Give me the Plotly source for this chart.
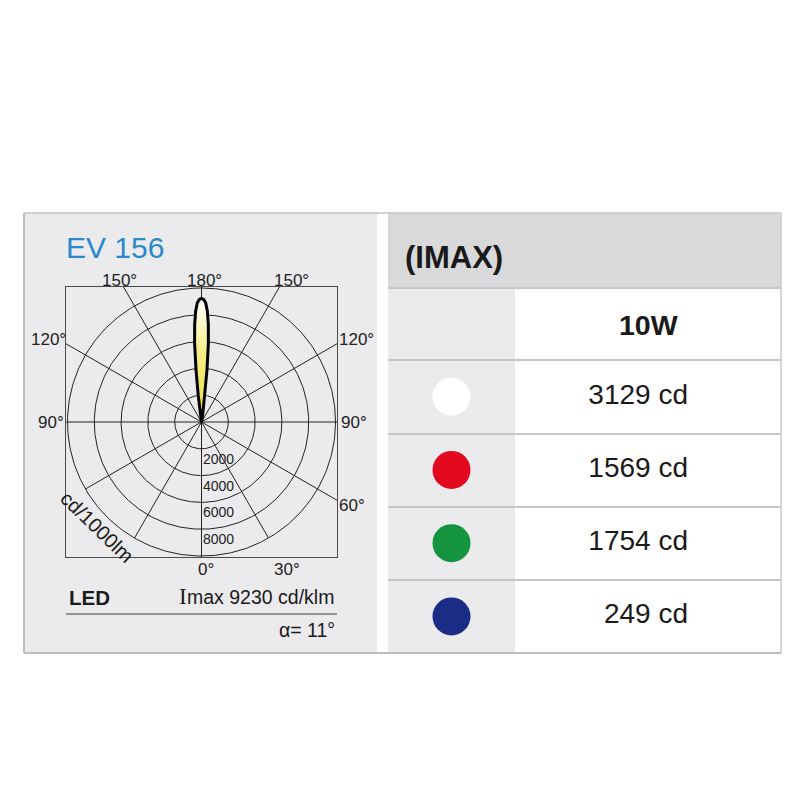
import numpy as np
import plotly.graph_objects as go

# ---------------- data ----------------
# luminous intensity distribution (cd/klm) vs angle from the beam axis (deg)
gamma_deg = [0, 1, 2, 3, 4, 5, 6, 7, 8, 9, 10, 12, 15, 20]
intensity = [9230, 9150, 8900, 8300, 7300, 5900, 3900, 2000, 900, 400, 200, 80, 30, 0]
beam_axis_deg = 180

ring_values = [2000, 4000, 6000, 8000, 10000]
ring_labels = ["2000", "4000", "6000", "8000"]
spoke_angles = [0, 30, 60, 90, 120, 150, 180, 210, 240, 270, 300, 330]
spoke_to_box = [True, False, True, True, True, True, True, True, True, True, False, False]

product = "EV 156"
source = "LED"
imax_total = 9230
beam_angle = 11
unit_label = "cd/1000lm"

table_title = "(IMAX)"
power = "10W"
colour_names = ["white", "red", "green", "blue"]
colour_hex = ["#ffffff", "#e30a20", "#14943f", "#1b2c87"]
imax_values = [3129, 1569, 1754, 249]

FONT = "Liberation Sans, Arial, sans-serif"
SERIF = "Liberation Serif, Times New Roman, serif"
W = H = 800


def px(x, y):
    return x / W, 1 - y / H


fig = go.Figure()

# ---------- polar diagram in a square cartesian frame ----------
BOX_L, BOX_R, BOX_T, BOX_B = 66, 337, 287, 557
R_PX = 134.0                        # outer ring radius in px
scale = ring_values[-1] / R_PX      # cd per px
RX = (BOX_R - BOX_L) / 2 * scale
RY = (BOX_B - BOX_T) / 2 * scale
LINE = "#222222"

t = np.linspace(0, 2 * np.pi, 361)
for r in ring_values:
    fig.add_trace(go.Scatter(x=r * np.sin(t), y=r * np.cos(t), mode="lines",
                             line=dict(color=LINE, width=1), hoverinfo="skip",
                             showlegend=False))

sx, sy = [], []
for a, to_box in zip(spoke_angles, spoke_to_box):
    th = np.radians(a)
    dx, dy = np.sin(th), -np.cos(th)
    if to_box:
        L = min(RX / abs(dx) if abs(dx) > 1e-9 else 1e12,
                RY / abs(dy) if abs(dy) > 1e-9 else 1e12)
    else:
        L = ring_values[-1]
    sx += [0, L * dx, None]
    sy += [0, L * dy, None]
fig.add_trace(go.Scatter(x=sx, y=sy, mode="lines", line=dict(color=LINE, width=1),
                         hoverinfo="skip", showlegend=False))

# lobe
g_full = [-g for g in reversed(gamma_deg)] + gamma_deg[1:]
i_full = list(reversed(intensity)) + intensity[1:]
theta = np.radians(beam_axis_deg + np.array(g_full, dtype=float))
I = np.array(i_full, dtype=float)
lx = I * np.sin(theta)
ly = -I * np.cos(theta)
fig.add_trace(go.Scatter(
    x=lx, y=ly, mode="lines", fill="toself",
    fillgradient=dict(type="vertical",
                      colorscale=[[0, "#e8dc40"], [0.55, "#f5ed84"],
                                  [0.85, "#fcf9d6"], [1, "#ffffff"]]),
    line=dict(color="#000000", width=3), hoverinfo="skip", showlegend=False))

# ---------- table markers and values ----------
fig.add_trace(go.Scatter(x=[451.5] * len(colour_names), y=colour_names, mode="markers",
                         marker=dict(size=38, color=colour_hex, line=dict(width=0)),
                         xaxis="x2", yaxis="y2", hoverinfo="skip", showlegend=False))
fig.add_trace(go.Scatter(x=[688] * len(colour_names), y=colour_names, mode="text",
                         text=[f"{v} cd" for v in imax_values], textposition="middle left",
                         textfont=dict(family=FONT, size=28, color="#1a1a1a"),
                         xaxis="x2", yaxis="y2", hoverinfo="skip", showlegend=False))

# ---------- background shapes ----------
shapes = []


def rect(x0, y0, x1, y1, fill):
    shapes.append(dict(type="rect", xref="paper", yref="paper", layer="below",
                       x0=x0 / W, x1=x1 / W, y0=1 - y1 / H, y1=1 - y0 / H,
                       fillcolor=fill, line=dict(width=0)))


def hline(x0, x1, y, color, width):
    shapes.append(dict(type="line", xref="paper", yref="paper", layer="below",
                       x0=x0 / W, x1=x1 / W, y0=1 - y / H, y1=1 - y / H,
                       line=dict(color=color, width=width)))


def vline(x, y0, y1, color, width):
    shapes.append(dict(type="line", xref="paper", yref="paper", layer="below",
                       x0=x / W, x1=x / W, y0=1 - y0 / H, y1=1 - y1 / H,
                       line=dict(color=color, width=width)))


rect(24, 213, 377, 653, "#ebebed")
rect(388, 213, 781, 288, "#d9d9db")
rect(388, 288, 515, 653, "#ebebed")
for yy in [288, 360, 434, 507, 580]:
    hline(388, 781, yy, "#c6c6c8", 2)
hline(24, 781, 213, "#c4c4c4", 1.5)
hline(24, 781, 653, "#bdbdbd", 2)
vline(24, 213, 653, "#bdbdbd", 2)
vline(781, 213, 653, "#c8c8c8", 1.5)
hline(66, 337, 614, "#3a3a3a", 1)

# ---------- annotations ----------
ann = []


def text(x, y, s, size, color="#1a1a1a", xanchor="center", bold=False, angle=0, family=FONT):
    ax, ay = px(x, y)
    ann.append(dict(xref="paper", yref="paper", x=ax, y=ay, text=(f"<b>{s}</b>" if bold else s),
                    showarrow=False, xanchor=xanchor, yanchor="middle", textangle=angle,
                    font=dict(family=family, size=size, color=color)))


text(64, 247, product, 30, color="#2a89c8", xanchor="left")
for s, x, y in [("150°", 119, 280), ("180°", 204, 280), ("150°", 291, 280),
                ("120°", 48, 339), ("120°", 356, 339),
                ("90°", 51, 422), ("90°", 354, 422),
                ("60°", 352, 506), ("0°", 206, 569), ("30°", 287, 569)]:
    text(x, y, s, 17, color="#222222")

for r, lab in zip(ring_values, ring_labels):
    ann.append(dict(xref="x", yref="y", x=0, y=-r, text=lab, showarrow=False,
                    xanchor="left", yanchor="top", xshift=-1, yshift=0,
                    font=dict(family=FONT, size=14, color="#222222")))

text(97, 527, unit_label, 20, color="#1a1a1a", angle=44)
text(67, 597, source, 20.5, xanchor="left", bold=True)
text(336, 597, f"max {imax_total} cd/klm", 19.5, xanchor="right")
text(189, 596, "I", 23, xanchor="right", family=SERIF)
text(337, 630, f"α= {beam_angle}°", 19.5, xanchor="right")

text(403, 257, table_title, 31, xanchor="left", bold=True)
text(648, 325, power, 28.5, bold=True)

fig.update_layout(
    width=W, height=H, autosize=False,
    margin=dict(l=0, r=0, t=0, b=0),
    paper_bgcolor="#ffffff", plot_bgcolor="rgba(0,0,0,0)",
    showlegend=False, shapes=shapes, annotations=ann,
    xaxis=dict(domain=[BOX_L / W, BOX_R / W], range=[-RX, RX], showgrid=False,
               zeroline=False, showticklabels=False, ticks="", showline=True, mirror=True,
               linecolor="#4a4a4a", linewidth=1, fixedrange=True, anchor="y"),
    yaxis=dict(domain=[1 - BOX_B / H, 1 - BOX_T / H], range=[-RY, RY], showgrid=False,
               zeroline=False, showticklabels=False, ticks="", showline=True, mirror=True,
               linecolor="#4a4a4a", linewidth=1, fixedrange=True, anchor="x"),
    xaxis2=dict(domain=[388 / W, 781 / W], range=[388, 781], visible=False,
                fixedrange=True, anchor="y2"),
    yaxis2=dict(domain=[1 - 653 / H, 1 - 360 / H], type="category",
                categoryorder="array", categoryarray=colour_names,
                range=[len(colour_names) - 0.5, -0.5], visible=False,
                fixedrange=True, anchor="x2"),
)

fig.write_html("out.html", config={"displayModeBar": False},
               post_script="document.body.style.margin='0';document.body.style.overflow='hidden';")
